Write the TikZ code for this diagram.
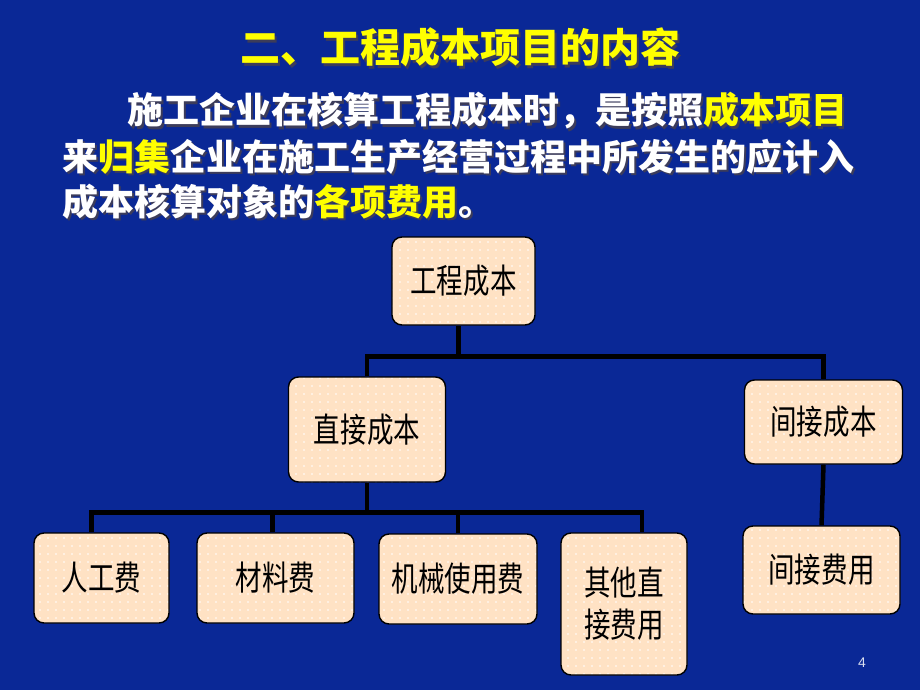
\documentclass[tikz,border=0pt]{standalone}
\usepackage{fontspec}
\setmainfont{Noto Sans CJK SC}
\newfontfamily\boxfont[FakeStretch=0.78]{Noto Sans CJK SC}
\newfontfamily\numfont{Liberation Sans}
\usetikzlibrary{positioning,patterns.meta}

\definecolor{slideblue}{RGB}{10,40,150}
\definecolor{boxpeach}{RGB}{255,226,196}
\definecolor{hiyellow}{RGB}{255,255,0}
\definecolor{shadowgrey}{RGB}{60,60,90}

% highlighted words and shadowed text
\newcommand{\hl}[1]{\textcolor{hiyellow}{#1}}
\newcommand{\shadowed}[1]{\makebox[0pt][l]{\hspace{2.5pt}\raisebox{-2.5pt}{\let\hl\relax\color{shadowgrey}#1}}#1}

\tikzset{
  costbox/.style={draw=black, line width=1.4pt, rounded corners=10pt,
    preaction={fill=boxpeach},
    preaction={pattern={Dots[distance=8pt, radius=0.9pt]}, pattern color=white},
    inner sep=0pt, font=\boxfont\fontsize{34}{42}\selectfont, text=black},
  link/.style={line width=4.5pt, black},
  paraline/.style={anchor=west, inner sep=0pt, text=white, font=\bfseries\fontsize{36}{44}\selectfont}
}

\begin{document}
\begin{tikzpicture}[x=1pt, y=-1pt]
    % Slide background
    \fill[slideblue] (0,0) rectangle (920,690);
    \useasboundingbox (0,0) rectangle (920,690);

    % Title
    \node[text=hiyellow, font=\bfseries\fontsize{40}{48}\selectfont] (title) at (460,49) {\shadowed{二、工程成本项目的内容}};

    % Paragraph
    \node[paraline] (para1) at (127,112) {\shadowed{施工企业在核算工程成本时，是按照\hl{成本项目}}};
    \node[paraline] (para2) at (62,158) {\shadowed{来\hl{归集}企业在施工生产经营过程中所发生的应计入}};
    \node[paraline] (para3) at (62,203) {\shadowed{成本核算对象的\hl{各项费用}。}};

    % Cost boxes
    \node[costbox, minimum width=143pt, minimum height=88pt] (cost) at (463.5,281) {工程成本};
    \node[costbox, minimum width=157pt, minimum height=105pt] (direct) at (367,429.5) {直接成本};
    \node[costbox, minimum width=158pt, minimum height=84pt] (indirect) at (823.5,422) {间接成本};
    \node[costbox, minimum width=135pt, minimum height=90pt] (labor) at (101.5,578) {人工费};
    \node[costbox, minimum width=157pt, minimum height=90pt] (material) at (275.5,578) {材料费};
    \node[costbox, minimum width=158pt, minimum height=90pt] (machine) at (458,579) {机械使用费};
    \node[costbox, minimum width=126pt, minimum height=142pt, align=left] (other) at (624,604) {其他直\\接费用};
    \node[costbox, minimum width=157pt, minimum height=88pt] (overhead) at (821.5,570) {间接费用};

    % Connectors
    \draw[link] ([xshift=-5pt]cost.south) -- ++(0,32);
    \draw[link] (direct.north) -- ++(0,-20) -| (indirect.north);
    \draw[link] (direct.south) -- ++(0,32) coordinate (bus);
    \draw[link] ([xshift=-10pt]labor.north) -- ++(0,-20) -| ([xshift=18pt]other.north);
    \draw[link] ([xshift=-3pt]material.north) -- ([xshift=-3pt]material.north |- bus);
    \draw[link] (machine.north) -- (machine.north |- bus);
    \draw[link] (indirect.south) -- (overhead.north);

    % Page number
    \node[text=white!85!slideblue, font=\numfont\fontsize{14}{16}\selectfont] (pagenum) at (862,663) {4};
\end{tikzpicture}
\end{document}
